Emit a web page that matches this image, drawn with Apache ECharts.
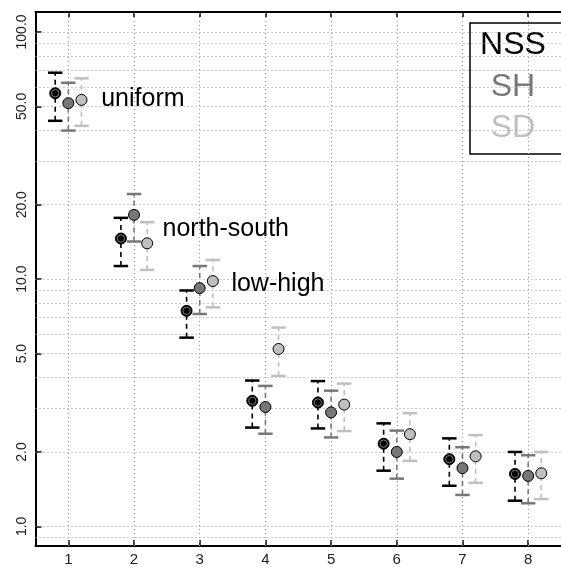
<!DOCTYPE html>
<html>
<head>
<meta charset="utf-8">
<script src="https://cdn.jsdelivr.net/npm/echarts@6/dist/echarts.min.js"></script>
<style>
  html, body { margin: 0; padding: 0; background: #fff; }
  #chart { width: 561px; height: 567px; }
</style>
</head>
<body>
<div id="chart"></div>
<script>
// ---- data ----
const categories = [1, 2, 3, 4, 5, 6, 7, 8];
const seriesNames = ['NSS', 'SH', 'SD'];

const nssMean = [56.5, 14.6, 7.45, 3.22, 3.17, 2.16, 1.87, 1.63];
const nssLow  = [43.7, 11.3, 5.8, 2.51, 2.49, 1.68, 1.46, 1.27];
const nssHigh = [68.4, 17.7, 9.0, 3.89, 3.87, 2.61, 2.27, 2.00];

const shMean = [51.5, 18.2, 9.2, 3.04, 2.89, 2.00, 1.72, 1.60];
const shLow  = [39.9, 14.2, 7.23, 2.37, 2.29, 1.56, 1.34, 1.24];
const shHigh = [62.3, 22.1, 11.3, 3.70, 3.54, 2.44, 2.09, 1.94];

const sdMean = [53.1, 13.96, 9.82, 5.22, 3.11, 2.36, 1.92, 1.64];
const sdLow  = [41.7, 10.9, 7.69, 4.06, 2.43, 1.84, 1.50, 1.29];
const sdHigh = [64.9, 17.0, 11.96, 6.37, 3.78, 2.87, 2.34, 2.00];

const yTickLabels = [1, 2, 5, 10, 20, 50, 100];
const yGridValues = [0.9, 1, 2, 3, 4, 5, 6, 7, 8, 9, 10, 20, 30, 40, 50, 60, 70, 80, 90, 100];

const annotations = [
  { text: 'uniform', x: 1.50, y: 53.3 },
  { text: 'north-south', x: 2.434, y: 15.96 },
  { text: 'low-high', x: 3.482, y: 9.52 }
];

// ---- styling ----
const FONT = '"Liberation Sans", Arial, Helvetica, sans-serif';
const colors = ['#000000', '#777777', '#bfbfbf'];
const offsets = [-0.2, 0, 0.2];
const capHalf = 0.11;

function errorSeries(idx, mean, low, high) {
  const color = colors[idx];
  const off = offsets[idx];
  const isBlack = idx === 0;
  return {
    type: 'custom',
    name: seriesNames[idx],
    xAxisIndex: 0,
    yAxisIndex: 0,
    z: 5 + idx,
    data: categories.map((c, i) => [c, low[i], high[i], mean[i]]),
    encode: { x: 0, y: [1, 2, 3] },
    renderItem: function (params, api) {
      const x = api.value(0) + off;
      const lo = api.coord([x, api.value(1)]);
      const hi = api.coord([x, api.value(2)]);
      const mn = api.coord([x, api.value(3)]);
      const left = api.coord([x - capHalf, api.value(1)])[0];
      const right = api.coord([x + capHalf, api.value(1)])[0];
      const children = [
        { type: 'line', shape: { x1: lo[0], y1: lo[1], x2: hi[0], y2: hi[1] },
          style: { stroke: color, lineWidth: 1.6, lineDash: [5, 4] } },
        { type: 'line', shape: { x1: left, y1: lo[1], x2: right, y2: lo[1] },
          style: { stroke: color, lineWidth: 2.5 } },
        { type: 'line', shape: { x1: left, y1: hi[1], x2: right, y2: hi[1] },
          style: { stroke: color, lineWidth: 2.5 } },
        { type: 'circle', shape: { cx: mn[0], cy: mn[1], r: 5.5 },
          style: { fill: color, stroke: '#000', lineWidth: 1 } }
      ];
      if (isBlack) {
        children.push({ type: 'circle', shape: { cx: mn[0], cy: mn[1], r: 3.7 },
          style: { fill: 'none', stroke: '#9a9a9a', lineWidth: 0.8 } });
      }
      return { type: 'group', children: children };
    }
  };
}

const gridLineStyle = { color: '#9a9a9a', width: 1, type: [1, 3] };

const option = {
  animation: false,
  backgroundColor: '#ffffff',
  grid: { left: 35.5, right: -8.5, top: 12, bottom: 19, containLabel: false },
  xAxis: [
    {
      type: 'value', min: 0.5, max: 8.5, position: 'bottom',
      axisLine: { show: true, lineStyle: { color: '#000', width: 2 } },
      axisTick: { show: true, inside: true, length: 6, customValues: categories,
                  lineStyle: { color: '#000', width: 1.5 } },
      axisLabel: { show: true, customValues: categories, margin: 6,
                   color: '#222', fontFamily: FONT, fontSize: 15 },
      splitLine: { show: false }
    },
    {
      type: 'value', min: 0.5, max: 8.5, position: 'top',
      axisLine: { show: true, lineStyle: { color: '#000', width: 2 } },
      axisTick: { show: true, inside: true, length: 5, customValues: categories,
                  lineStyle: { color: '#000', width: 1.5 } },
      axisLabel: { show: false },
      splitLine: { show: false }
    }
  ],
  yAxis: {
    type: 'log', logBase: 10, min: 0.833, max: 120.4,
    axisLine: { show: true, lineStyle: { color: '#000', width: 2 } },
    axisTick: { show: true, inside: true, length: 6, customValues: yTickLabels,
                lineStyle: { color: '#000', width: 1.5 } },
    axisLabel: { show: true, customValues: yTickLabels, rotate: 90, margin: 6,
                 color: '#222', fontFamily: FONT, fontSize: 14,
                 formatter: v => Number(v).toFixed(1) },
    splitLine: { show: false },
    minorTick: { show: false },
    minorSplitLine: { show: false }
  },
  series: [
    {
      type: 'scatter',
      name: 'annotations',
      z: 2,
      symbolSize: 0,
      silent: true,
      itemStyle: { opacity: 1 },
      data: annotations.map(a => ({ value: [a.x, a.y], name: a.text })),
      label: {
        show: true, position: 'right', distance: 0, opacity: 1,
        formatter: p => p.name, textBorderWidth: 0,
        color: '#000000', fontFamily: FONT, fontSize: 25
      },
      markLine: {
        silent: true,
        symbol: ['none', 'none'],
        label: { show: false },
        lineStyle: gridLineStyle,
        z: 1,
        data: yGridValues.map(v => ({ yAxis: v })).concat(categories.map(c => ({ xAxis: c })))
      }
    },
    errorSeries(0, nssMean, nssLow, nssHigh),
    errorSeries(1, shMean, shLow, shHigh),
    errorSeries(2, sdMean, sdLow, sdHigh)
  ],
  graphic: [
    {
      type: 'group', x: 470, y: 23, z: 100,
      children: [
        { type: 'rect', shape: { x: 0, y: 0, width: 100, height: 131 },
          style: { fill: '#fff', stroke: '#000', lineWidth: 1.5 } },
        { type: 'text', x: 43, y: 22, style: { text: seriesNames[0], fill: colors[0],
          font: '32px ' + FONT, textAlign: 'center', textVerticalAlign: 'middle' } },
        { type: 'text', x: 43, y: 64, style: { text: seriesNames[1], fill: colors[1],
          font: '32px ' + FONT, textAlign: 'center', textVerticalAlign: 'middle' } },
        { type: 'text', x: 43, y: 105, style: { text: seriesNames[2], fill: colors[2],
          font: '32px ' + FONT, textAlign: 'center', textVerticalAlign: 'middle' } }
      ]
    }
  ]
};

const chart = echarts.init(document.getElementById('chart'), null, { renderer: 'canvas' });
chart.setOption(option);
</script>
</body>
</html>
